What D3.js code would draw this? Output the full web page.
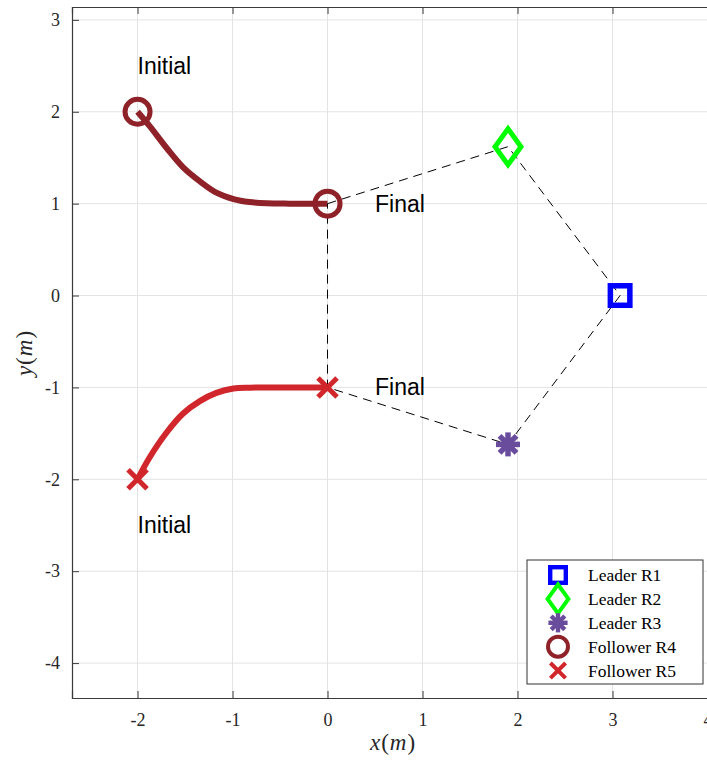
<!DOCTYPE html>
<html>
<head>
<meta charset="utf-8">
<script src="https://cdn.jsdelivr.net/npm/d3@7"></script>
<style>
  body { margin: 0; background: #fff; }
  svg { display: block; }
</style>
</head>
<body>
<div id="chart"></div>
<script>
// ticks
var xTicks = [-2, -1, 0, 1, 2, 3, 4];
var yTicks = [-4, -3, -2, -1, 0, 1, 2, 3];

// follower trajectories
var r4X = [-2, -1.87, -1.69, -1.52, -1.34, -1.17, -0.99, -0.82, -0.64, -0.4, -0.2, 0];
var r4Y = [2, 1.84, 1.60, 1.395, 1.24, 1.12, 1.05, 1.017, 1.003, 1.0, 1.0, 1.0];
var r5X = [-2, -1.87, -1.69, -1.52, -1.34, -1.17, -0.99, -0.82, -0.64, -0.4, -0.2, 0];
var r5Y = [-2, -1.757, -1.485, -1.284, -1.147, -1.06, -1.012, -1.003, -1.0, -1.0, -1.0, -1.0];

// leaders
var leaderX = [3.08, 1.9, 1.9];
var leaderY = [0, 1.62, -1.62];

// followers start / end
var followerStartX = [-2, -2];
var followerStartY = [2, -2];
var followerEndX = [0, 0];
var followerEndY = [1, -1];

// formation polygon (dashed)
var formX = [0, 1.9, 3.08, 1.9, 0, 0];
var formY = [1, 1.62, 0, -1.62, -1, 1];

// annotations
var noteText = ["Initial", "Final", "Final", "Initial"];
var noteX = [-2, 0.5, 0.5, -2];
var noteY = [2.5, 1, -1, -2.5];

// legend
var legendLabels = ["Leader R1", "Leader R2", "Leader R3", "Follower R4", "Follower R5"];
var legendTypes = ["square", "diamond", "asterisk", "circle", "cross"];
var colors = ["#0000ff", "#00ff00", "#6a4c9c", "#8e2228", "#d1262b"];

var w = 707;
var h = 761;
var padL = 72, padR = 707.5, padT = 7, padB = 698;

var svg = d3.select("#chart")
    .append("svg")
    .attr("width", w)
    .attr("height", h);

var x = d3.scaleLinear().domain([-2.69, 4]).range([padL, padR]);
var y = d3.scaleLinear().domain([-4.38, 3.14]).range([padB, padT]);

//grid
svg.append("g").selectAll("line")
    .data(xTicks)
    .enter()
    .append("line")
    .attr("x1", function (d) { return x(d); })
    .attr("x2", function (d) { return x(d); })
    .attr("y1", padT)
    .attr("y2", padB)
    .attr("stroke", "#e3e3e3")
    .attr("stroke-width", 1);
svg.append("g").selectAll("line")
    .data(yTicks)
    .enter()
    .append("line")
    .attr("y1", function (d) { return y(d); })
    .attr("y2", function (d) { return y(d); })
    .attr("x1", padL)
    .attr("x2", w)
    .attr("stroke", "#e3e3e3")
    .attr("stroke-width", 1);

//axes
var xAxis = svg.append("g")
    .attr("transform", "translate(0," + padB + ")")
    .call(d3.axisBottom(x).tickValues(xTicks).tickSize(-7).tickPadding(15)
        .tickFormat(function (d) { return d; }));
var xAxisTop = svg.append("g")
    .attr("transform", "translate(0," + padT + ")")
    .call(d3.axisTop(x).tickValues(xTicks).tickSize(-7).tickFormat(""));
var yAxis = svg.append("g")
    .attr("transform", "translate(" + padL + ",0)")
    .call(d3.axisLeft(y).tickValues(yTicks).tickSize(-7).tickPadding(12)
        .tickFormat(function (d) { return d; }));

[xAxis, xAxisTop, yAxis].forEach(function (a) {
    a.select(".domain").attr("stroke", "#3a3a3a").attr("stroke-width", 1.2);
    a.selectAll(".tick line").attr("stroke", "#3a3a3a");
    a.selectAll("text")
        .attr("fill", "#262626")
        .style("font-family", "'Liberation Serif', 'Times New Roman', serif")
        .style("font-size", "18px");
});

//axis labels
var xl = svg.append("text")
    .attr("x", 393)
    .attr("y", 750)
    .attr("text-anchor", "middle")
    .attr("fill", "#262626")
    .style("font-family", "'Liberation Serif', serif")
    .style("font-size", "23px")
    .style("letter-spacing", "1px");
xl.append("tspan").style("font-style", "italic").text("x");
xl.append("tspan").text("(");
xl.append("tspan").style("font-style", "italic").text("m");
xl.append("tspan").text(")");

var yl = svg.append("text")
    .attr("transform", "translate(32,353) rotate(-90)")
    .attr("text-anchor", "middle")
    .attr("fill", "#262626")
    .style("font-family", "'Liberation Serif', serif")
    .style("font-size", "23px")
    .style("letter-spacing", "1px");
yl.append("tspan").style("font-style", "italic").text("y");
yl.append("tspan").text("(");
yl.append("tspan").style("font-style", "italic").text("m");
yl.append("tspan").text(")");

//trajectories
var line = d3.line()
    .x(function (d) { return x(d[0]); })
    .y(function (d) { return y(d[1]); })
    .curve(d3.curveCatmullRom.alpha(0.5));

svg.append("path")
    .attr("d", line(d3.zip(r4X, r4Y)))
    .attr("fill", "none")
    .attr("stroke", colors[3])
    .attr("stroke-width", 6);
svg.append("path")
    .attr("d", line(d3.zip(r5X, r5Y)))
    .attr("fill", "none")
    .attr("stroke", colors[4])
    .attr("stroke-width", 6);

//formation
svg.append("path")
    .attr("d", d3.line()
        .x(function (d) { return x(d[0]); })
        .y(function (d) { return y(d[1]); })(d3.zip(formX, formY)))
    .attr("fill", "none")
    .attr("stroke", "#000")
    .attr("stroke-width", 1)
    .attr("stroke-dasharray", "9,6");

//marker drawing
function marker(g, type, cx, cy, k, color) {
    var m = g.append("g").attr("transform", "translate(" + cx + "," + cy + ")");
    if (type == "square") {
        var s = 19.5 * k;
        m.append("rect")
            .attr("x", -s / 2).attr("y", -s / 2)
            .attr("width", s).attr("height", s)
            .attr("fill", "none").attr("stroke", color).attr("stroke-width", 5.5 * k);
    } else if (type == "diamond") {
        var a = 13 * k, b = 18 * k;
        m.append("path")
            .attr("d", "M0," + (-b) + "L" + a + ",0L0," + b + "L" + (-a) + ",0Z")
            .attr("fill", "none").attr("stroke", color).attr("stroke-width", 5 * k)
            .attr("stroke-linejoin", "miter");
    } else if (type == "asterisk") {
        var r = 12 * k;
        [0, 45, 90, 135].forEach(function (ang) {
            var t = ang * Math.PI / 180;
            m.append("line")
                .attr("x1", -r * Math.cos(t)).attr("y1", -r * Math.sin(t))
                .attr("x2", r * Math.cos(t)).attr("y2", r * Math.sin(t))
                .attr("stroke", color).attr("stroke-width", 5.5 * k);
        });
        m.append("circle").attr("r", 6 * k).attr("fill", color);
    } else if (type == "circle") {
        m.append("circle")
            .attr("r", 12.5 * k)
            .attr("fill", "none").attr("stroke", color).attr("stroke-width", 5 * k);
    } else if (type == "cross") {
        var c = 9.5 * k;
        m.append("line").attr("x1", -c).attr("y1", -c).attr("x2", c).attr("y2", c)
            .attr("stroke", color).attr("stroke-width", 5 * k);
        m.append("line").attr("x1", -c).attr("y1", c).attr("x2", c).attr("y2", -c)
            .attr("stroke", color).attr("stroke-width", 5 * k);
    }
}

var marks = svg.append("g");
for (var i = 0; i < leaderX.length; i++) {
    marker(marks, legendTypes[i], x(leaderX[i]), y(leaderY[i]), 1, colors[i]);
}
for (var j = 0; j < 2; j++) {
    marker(marks, legendTypes[3 + j], x(followerStartX[j]), y(followerStartY[j]), 1, colors[3 + j]);
    marker(marks, legendTypes[3 + j], x(followerEndX[j]), y(followerEndY[j]), 1, colors[3 + j]);
}

//annotations
svg.append("g").selectAll("text")
    .data(noteText)
    .enter()
    .append("text")
    .text(function (d) { return d; })
    .attr("x", function (d, i) { return x(noteX[i]); })
    .attr("y", function (d, i) { return y(noteY[i]); })
    .attr("dy", "0.35em")
    .attr("fill", "#000")
    .style("font-family", "'Liberation Sans', Arial, sans-serif")
    .style("font-size", "23px");

//legend
var lg = svg.append("g");
lg.append("rect")
    .attr("x", 527).attr("y", 560)
    .attr("width", 176).attr("height", 124)
    .attr("fill", "#fff")
    .attr("stroke", "#333")
    .attr("stroke-width", 1);
legendLabels.forEach(function (d, i) {
    var ly = 575 + i * 23.9;
    marker(lg, legendTypes[i], 558, ly, 0.8, colors[i]);
    lg.append("text")
        .text(d)
        .attr("x", 588)
        .attr("y", ly)
        .attr("dy", "0.35em")
        .attr("fill", "#000")
        .style("font-family", "'Liberation Serif', serif")
        .style("font-size", "17.5px");
});
</script>
</body>
</html>
